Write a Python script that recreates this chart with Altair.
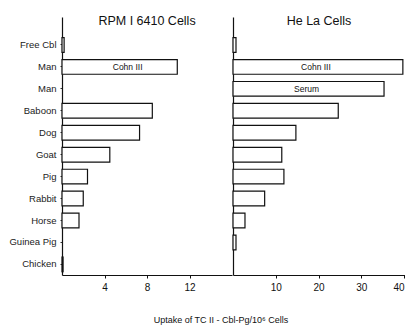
import altair as alt
import pandas as pd

categories = ["Free Cbl|0", "Man|1", "Man|2", "Baboon|3", "Dog|4", "Goat|5",
              "Pig|6", "Rabbit|7", "Horse|8", "Guinea Pig|9", "Chicken|10"]
rpmi_values = [0.2, 10.85, None, 8.5, 7.3, 4.5, 2.4, 2.0, 1.6, None, 0.1]
hela_values = [0.7, 39.7, 35.3, 24.6, 14.7, 11.4, 11.9, 7.4, 2.8, 0.7, None]
rpmi_notes = ["", "Cohn III", "", "", "", "", "", "", "", "", ""]
hela_notes = ["", "Cohn III", "Serum", "", "", "", "", "", "", "", ""]
rpmi_ticks = [4, 8, 12]
hela_ticks = [10, 20, 30, 40]

FONT = "Liberation Sans"

df_l = pd.DataFrame({"cat": categories, "v": rpmi_values, "note": rpmi_notes})
df_r = pd.DataFrame({"cat": categories, "v": hela_values, "note": hela_notes})

yscale = alt.Scale(domain=categories, paddingInner=0.33, paddingOuter=0.543, align=0.864)


def panel(df, dmax, ticks, title, show_labels, text_dx, width):
    base = alt.Chart(df)
    y_axis = alt.Axis(
        title=None, labels=show_labels, ticks=show_labels, tickSize=2,
        labelExpr="split(datum.label, '|')[0]", labelFontSize=9.5,
        labelColor="#222", labelPadding=4, domainColor="#111", domainWidth=1.2,
        tickColor="#333", labelFont=FONT,
    )
    x_axis = alt.Axis(
        title=None, values=ticks, grid=False, tickSize=3, labelFontSize=10,
        labelColor="#111", domainColor="#111", domainWidth=1.2, tickColor="#111",
        labelPadding=4, labelFont=FONT,
    )
    bars = base.mark_bar(fill="white", stroke="#111", strokeWidth=1.2).encode(
        x=alt.X("v:Q", scale=alt.Scale(domain=[0, dmax], nice=False), axis=x_axis),
        y=alt.Y("cat:N", scale=yscale, axis=y_axis, sort=None),
    )
    txt = base.transform_filter("datum.note != ''").transform_calculate(
        mid="datum.v / 2"
    ).mark_text(fontSize=8.5, color="#111", dx=text_dx, font=FONT).encode(
        x=alt.X("mid:Q"), y=alt.Y("cat:N", sort=None), text="note:N"
    )
    return alt.layer(bars, txt).properties(
        width=width, height=258,
        title=alt.TitleParams(title, fontSize=12.5, fontWeight="normal", font=FONT,
                              color="#111", offset=-10, anchor="middle"),
    )


left = panel(df_l, 16, rpmi_ticks, "RPM I 6410 Cells", True, 8, 170)
right = panel(df_r, 40.2, hela_ticks, "He La Cells", False, -2, 172)

chart = alt.hconcat(left, right, spacing=0).properties(
    title=alt.TitleParams("Uptake of TC II - Cbl-Pg/10\u2076 Cells", orient="bottom",
                          anchor="middle", fontSize=9, fontWeight="normal", font=FONT,
                          color="#111", offset=24, dx=14),
    padding={"top": 6, "left": 0, "right": 0, "bottom": 0},
).configure_view(strokeWidth=0).resolve_scale(x="independent")

chart.save("out.html", embed_options={"renderer": "svg", "actions": False})
